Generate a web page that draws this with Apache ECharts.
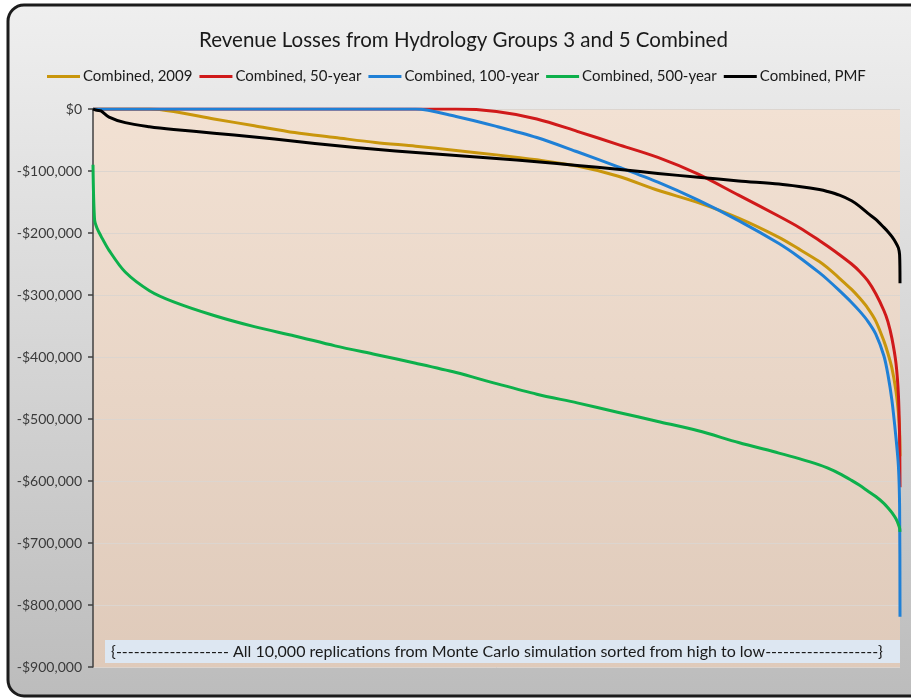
<!DOCTYPE html>
<html>
<head>
<meta charset="utf-8">
<script src="https://cdn.jsdelivr.net/npm/echarts@6/dist/echarts.min.js"></script>
<style>
  html, body { margin: 0; padding: 0; background: #ffffff; }
  #chart { width: 911px; height: 700px; }
</style>
</head>
<body>
<div id="chart"></div>
<script>
// Replication rank (1 = best outcome, 10,000 = worst), sorted high to low
const ranks = [1, 20, 50, 100, 200, 400, 700, 1000, 1500, 2000, 2500, 3000, 3500, 4000, 4500,
  5000, 5500, 6000, 6500, 7000, 7500, 8000, 8500, 8750, 9000, 9100, 9250, 9400, 9500, 9600,
  9700, 9800, 9850, 9900, 9950, 9980, 9995, 10000];

// Revenue loss ($) at each rank
const combined2009 = [0, 0, 0, 0, 0, 0, 0, -4000, -16000, -27000, -38000, -46000, -54000, -60000, -67000,
  -74000, -82000, -92000, -108000, -131000, -151000, -176000, -207000, -226000, -246000, -256000,
  -273000, -291000, -305000, -321000, -342000, -374000, -394000, -418000, -455000, -490000, -520000,
  -560000];
const combined50yr = [0, 0, 0, 0, 0, 0, 0, 0, 0, 0, 0, 0, 0, 0, 0,
  -4000, -16000, -36000, -57000, -78000, -105000, -139000, -173000, -191000, -212000, -221000,
  -235000, -250000, -262000, -277000, -298000, -325000, -343000, -370000, -410000, -460000, -530000,
  -610000];
const combined100yr = [0, 0, 0, 0, 0, 0, 0, 0, 0, 0, 0, 0, 0, 0, -12000,
  -28000, -46000, -69000, -93000, -118000, -147000, -180000, -217000, -239000, -264000, -275000,
  -293000, -312000, -326000, -342000, -363000, -398000, -428000, -470000, -530000, -575000, -640000,
  -819000];
const combined500yr = [-90000, -178000, -192000, -205000, -228000, -263000, -293000, -311000, -333000,
  -351000, -366000, -382000, -396000, -410000, -425000, -443000, -460000, -474000, -489000, -504000,
  -519000, -538000, -555000, -564000, -574000, -579000, -588000, -599000, -607000, -616000, -625000,
  -636000, -643000, -651000, -661000, -670000, -676000, -682000];
const combinedPMF = [0, -1000, -2000, -3000, -13000, -22000, -28500, -33000, -39000, -45000, -52000,
  -59000, -65000, -70000, -75000, -80000, -85000, -91000, -97000, -104000, -110000, -116000, -121000,
  -125000, -130000, -133000, -139000, -148000, -157000, -168000, -178000, -191000, -198000, -206000,
  -216000, -224000, -235000, -281000];

const seriesNames = ['Combined, 2009', 'Combined, 50-year', 'Combined, 100-year', 'Combined, 500-year', 'Combined, PMF'];
const seriesValues = [combined2009, combined50yr, combined100yr, combined500yr, combinedPMF];
const seriesColors = ['#c9960c', '#d01a1a', '#1f80d6', '#0db04b', '#000000'];

const yTicks = { min: -900000, max: 0, step: 100000 };
const noteText = '{------------------- All 10,000 replications from Monte Carlo simulation sorted from high to low-------------------}';

const FONT = 'Lato, "Open Sans", sans-serif';

const chart = echarts.init(document.getElementById('chart'), null, { renderer: 'canvas' });

const series = seriesNames.map((name, i) => ({
  name: name,
  type: 'line',
  data: ranks.map((r, k) => [r, seriesValues[i][k]]),
  showSymbol: false,
  symbol: 'none',
  smooth: 0.3,
  lineStyle: { color: seriesColors[i], width: 3, join: 'round' },
  itemStyle: { color: seriesColors[i] },
  emphasis: { disabled: true },
  z: 3 + i
}));

function money(v) {
  if (v === 0) return '$0';
  return '-$' + Math.abs(v).toLocaleString('en-US');
}

chart.setOption({
  animation: false,
  textStyle: { fontFamily: FONT },
  title: {
    text: 'Revenue Losses from Hydrology Groups 3 and 5 Combined',
    left: 194,
    top: 25,
    textStyle: { fontFamily: FONT, fontSize: 20.5, fontWeight: 'normal', color: '#1a1a1a' }
  },
  legend: {
    top: 64,
    left: 42,
    icon: 'rect',
    itemWidth: 33,
    itemHeight: 3,
    itemGap: 7,
    textStyle: { fontFamily: FONT, fontSize: 15, color: '#1a1a1a', padding: [0, 0, 0, -2] },
    data: seriesNames
  },
  grid: {
    left: 93, right: 11, top: 109, bottom: 33,
    show: true,
    borderWidth: 0,
    backgroundColor: {
      type: 'linear', x: 0, y: 0, x2: 0, y2: 1,
      colorStops: [{ offset: 0, color: '#f2e1d3' }, { offset: 1, color: '#dfcaba' }]
    }
  },
  xAxis: {
    type: 'value',
    min: 1,
    max: 10000,
    show: false
  },
  yAxis: {
    type: 'value',
    min: yTicks.min,
    max: yTicks.max,
    interval: yTicks.step,
    axisLine: { show: true, lineStyle: { color: '#404040', width: 1.5 } },
    axisTick: { show: true, length: 5, lineStyle: { color: '#404040', width: 1.5 } },
    axisLabel: { formatter: money, fontFamily: FONT, fontSize: 14, color: '#3a3a3a', margin: 11 },
    splitLine: { show: true, lineStyle: { color: '#dcd5cf', width: 1 } }
  },
  graphic: [
    {
      type: 'rect',
      z: -100,
      silent: true,
      shape: { x: 8, y: 5, width: 930, height: 691, r: 16 },
      style: {
        fill: {
          type: 'linear', x: 0, y: 0, x2: 0, y2: 1,
          colorStops: [{ offset: 0, color: '#efefef' }, { offset: 1, color: '#bcbcbc' }]
        },
        stroke: '#1c1c1c',
        lineWidth: 3
      }
    },
    {
      type: 'rect',
      z: 100,
      silent: true,
      shape: { x: 105, y: 640, width: 795, height: 23 },
      style: { fill: '#dde7f2' }
    },
    {
      type: 'text',
      z: 101,
      silent: true,
      x: 497,
      y: 652,
      style: {
        text: noteText,
        fontFamily: FONT,
        fontSize: 16,
        fill: '#1a1a1a',
        align: 'center',
        verticalAlign: 'middle'
      }
    }
  ],
  series: series
});
</script>
</body>
</html>
